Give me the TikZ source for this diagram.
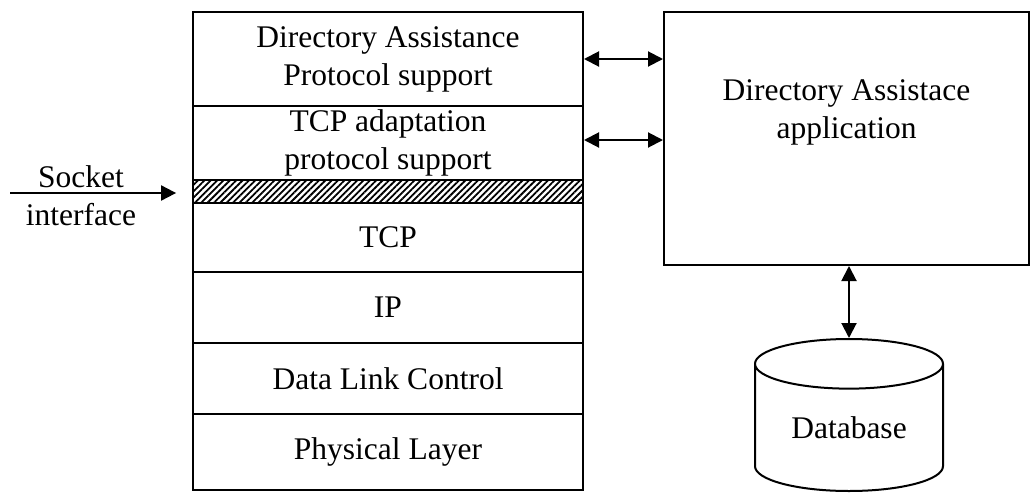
\documentclass[tikz,border=0pt]{standalone}
\usepackage{fontspec}
\setmainfont{Liberation Serif}
\usepackage{tikz}
\usetikzlibrary{shapes.geometric}
\usetikzlibrary{arrows.meta}
\usetikzlibrary{patterns.meta}

\begin{document}
\begin{tikzpicture}[x=1pt, y=-1pt, line width=2pt,
	every node/.style={font=\fontsize{31.5}{38}\selectfont, align=center, inner sep=0pt},
	layer/.style={draw, rectangle, minimum width=390pt},
	tip/.style={-{Triangle[length=15pt, width=15pt]}},
	dtip/.style={{Triangle[length=15pt, width=15pt]}-{Triangle[length=15pt, width=15pt]}}]
	\useasboundingbox (0,0) rectangle (1031,493);
	% Nodes
	\node[layer, minimum height=94pt] (dap) at (388,59) {Directory Assistance\\Protocol support};
	\node[layer, minimum height=74pt] (tap) at (388,143) {TCP adaptation\\protocol support};
	\node[layer, minimum height=23pt, pattern={Lines[angle=45, distance=4.5pt, line width=1.8pt]}] (sock) at (388,191.5) {};
	\node[layer, minimum height=69pt] (tcp) at (388,237.5) {TCP};
	\node[layer, minimum height=71pt] (ip) at (388,307.5) {IP};
	\node[layer, minimum height=71pt] (dlc) at (388,378.5) {Data Link Control};
	\node[layer, minimum height=76pt] (phy) at (388,452) {Physical Layer};
	\node[draw, rectangle, minimum width=365pt, minimum height=253pt] (app) at (846.5,138.5) {};
	\node (apptext) at (846.5,112) {Directory Assistace\\application};
	\node[draw, cylinder, shape border rotate=90, aspect=0.43, minimum width=188pt, minimum height=152pt, anchor=top] (db) at (849,338) {\raisebox{-8pt}{Database}};
	\node (socktext) at (81,196) {Socket\\interface};
	\coordinate (sockin) at (10,193);
	% Edges
	\draw[dtip] (dap.east) -- (dap.east -| app.west);
	\draw[dtip] ([yshift=3pt]tap.east) -- ([yshift=3pt]tap.east -| app.west);
	\draw[tip] (sockin) -- ([xshift=-16pt]sock.west |- sockin);
	\draw[dtip] (db.top |- app.south) -- (db.top);
\end{tikzpicture}
\end{document}
